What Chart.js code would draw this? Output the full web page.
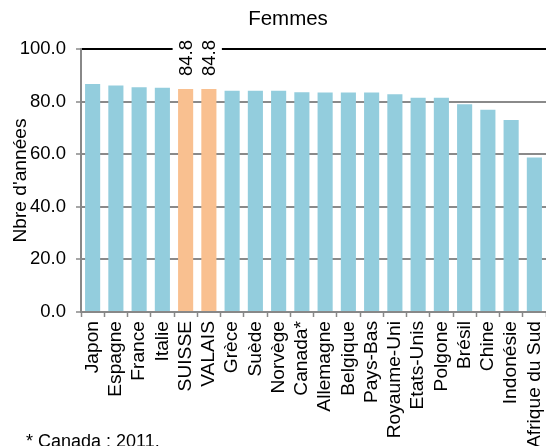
<!DOCTYPE html>
<html>
<head>
<meta charset="utf-8">
<script src="https://cdn.jsdelivr.net/npm/chart.js@4"></script>
<style>
  html, body { margin: 0; padding: 0; background: #fff; overflow: hidden; }
  canvas { display: block; }
</style>
</head>
<body>
<canvas id="femmesChart" width="546" height="446"></canvas>
<script>
const pays = ['Japon', 'Espagne', 'France', 'Italie', 'SUISSE', 'VALAIS', 'Grèce', 'Suède', 'Norvège', 'Canada*',
    'Allemagne', 'Belgique', 'Pays-Bas', 'Royaume-Uni', 'Etats-Unis', 'Polgone', 'Brésil', 'Chine', 'Indonésie', 'Afrique du Sud'];
const esperanceVie = [86.7, 86.1, 85.5, 85.3, 84.8, 84.8, 84.1, 84.1, 84.1, 83.6,
    83.5, 83.5, 83.5, 82.8, 81.5, 81.5, 79.0, 76.9, 73.0, 58.7];
const surligne = ['SUISSE', 'VALAIS']; // barres en orange + étiquette
const yTicks = [0, 20, 40, 60, 80, 100];

const FONT = "'Liberation Sans', Arial, sans-serif";

// étiquettes verticales au-dessus de SUISSE / VALAIS, + titre et note
const annotations = {
    id: 'annotations',
    afterDatasetsDraw(chart) {
        const ctx = chart.ctx;
        const meta = chart.getDatasetMeta(0);
        ctx.save();
        ctx.font = '18.5px ' + FONT;
        meta.data.forEach((bar, i) => {
            if (!surligne.includes(pays[i])) return;
            const txt = esperanceVie[i].toFixed(1);
            const base = bar.y - 13;
            ctx.fillStyle = '#fff';
            ctx.fillRect(bar.x - 13, base - 40, 26, 42);
            ctx.save();
            ctx.translate(bar.x + 1, base);
            ctx.rotate(-Math.PI / 2);
            ctx.fillStyle = '#000';
            ctx.textAlign = 'left';
            ctx.textBaseline = 'middle';
            ctx.fillText(txt, 0, 0);
            ctx.restore();
        });
        ctx.restore();
    },
    afterDraw(chart) {
        const ctx = chart.ctx;
        ctx.save();
        ctx.fillStyle = '#000';
        ctx.textAlign = 'center';
        ctx.textBaseline = 'middle';
        ctx.font = '20.5px ' + FONT;
        ctx.fillText('Femmes', 288, 19);
        ctx.textAlign = 'left';
        ctx.textBaseline = 'alphabetic';
        ctx.font = '18px ' + FONT;
        ctx.fillText('* Canada : 2011.', 26, 447);
        ctx.restore();
    }
};

new Chart(document.getElementById('femmesChart'), {
    type: 'bar',
    data: {
        labels: pays,
        datasets: [{
            data: esperanceVie,
            backgroundColor: pays.map(p => surligne.includes(p) ? '#F9C090' : '#93CDDD'),
            borderWidth: 0,
            barPercentage: 0.65,
            categoryPercentage: 1
        }]
    },
    options: {
        responsive: false,
        animation: false,
        events: [],
        layout: { padding: { top: 49, left: 0, right: 0, bottom: 0 } },
        plugins: {
            legend: { display: false },
            title: { display: false },
            tooltip: { enabled: false }
        },
        scales: {
            x: {
                grid: {
                    display: true,
                    drawOnChartArea: false,
                    drawTicks: true,
                    tickLength: 5,
                    tickColor: '#888',
                    tickWidth: 1.5
                },
                border: { color: '#888', width: 2 },
                ticks: {
                    autoSkip: false,
                    minRotation: 90,
                    maxRotation: 90,
                    padding: 4,
                    color: '#000',
                    font: { family: FONT, size: 19.2 }
                },
                afterFit: (scale) => {
                    scale.height = 134;
                    scale.paddingLeft = 0;
                    scale.paddingRight = 0;
                }
            },
            y: {
                min: 0,
                max: 100,
                afterBuildTicks: (scale) => {
                    scale.ticks = yTicks.map(v => ({ value: v }));
                },
                grid: {
                    color: (c) => c.tick && c.tick.value === 100 ? '#000' : '#8a8a8a',
                    lineWidth: 2,
                    tickLength: 5,
                    tickColor: '#888',
                    tickWidth: 1.5
                },
                border: { color: '#888', width: 2 },
                ticks: {
                    padding: 10,
                    color: '#000',
                    font: { family: FONT, size: 18.5 },
                    callback: (v) => Number(v).toFixed(1)
                },
                title: {
                    display: true,
                    text: "Nbre d'années",
                    color: '#000',
                    padding: { top: 9, bottom: 0 },
                    font: { family: FONT, size: 19.2 }
                },
                afterFit: (scale) => {
                    scale.width = 81;
                    scale.paddingTop = 0;
                    scale.paddingBottom = 0;
                }
            }
        }
    },
    plugins: [annotations]
});
</script>
</body>
</html>
